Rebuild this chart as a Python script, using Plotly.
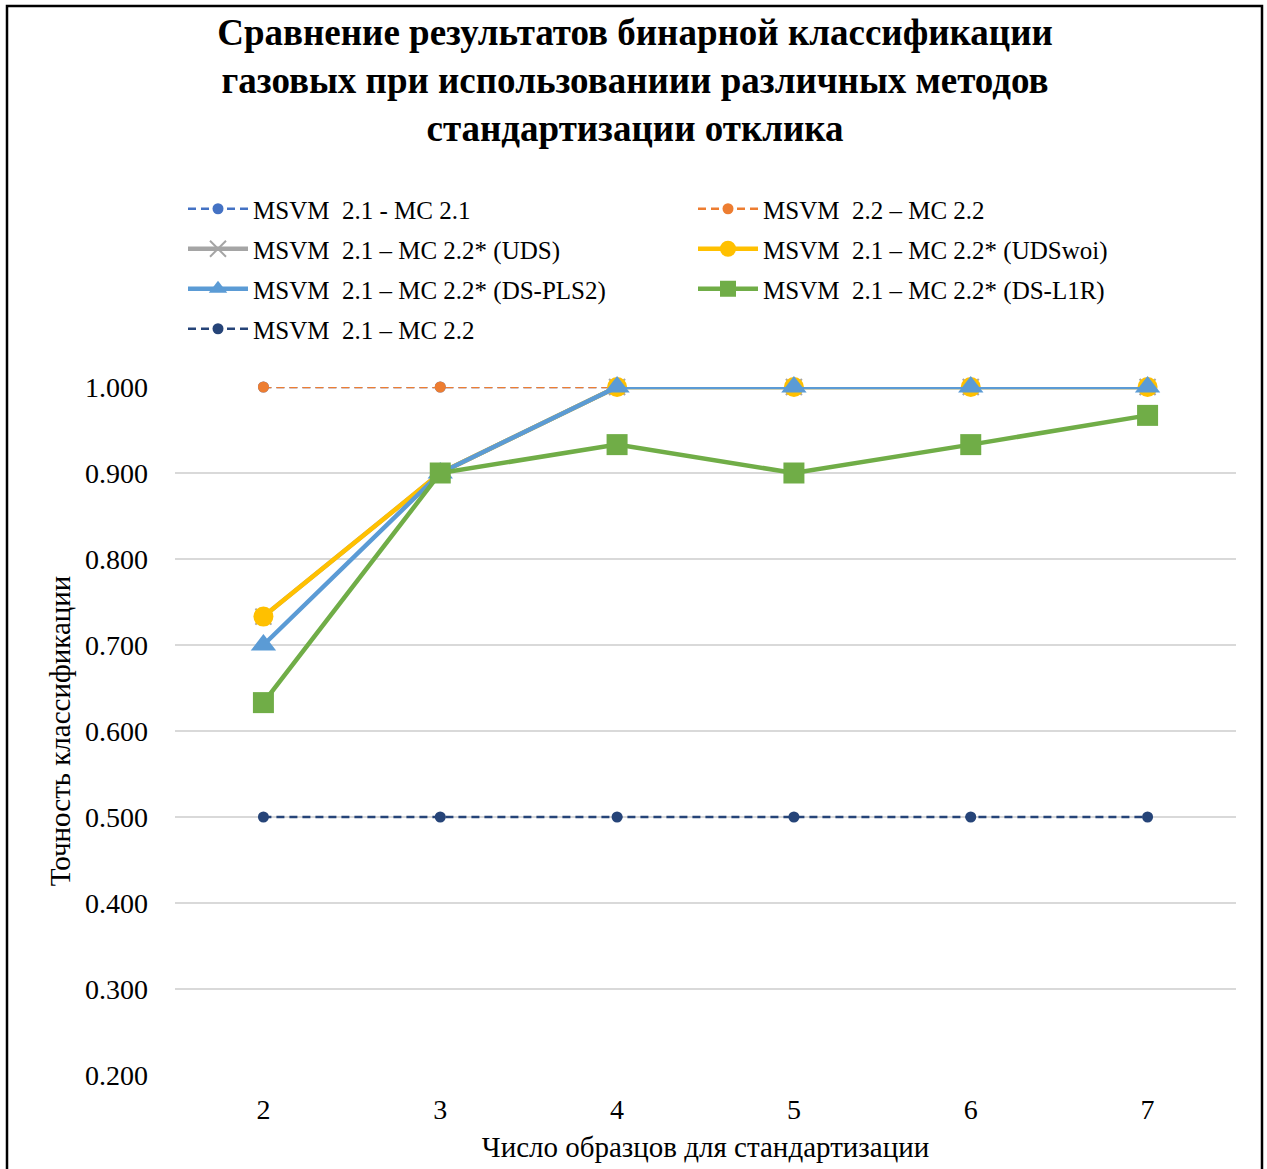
import plotly.graph_objects as go

x_vals = [2, 3, 4, 5, 6, 7]
y_mc21 = [1.0, 1.0, 1.0, 1.0, 1.0, 1.0]
y_mc22 = [1.0, 1.0, 1.0, 1.0, 1.0, 1.0]
y_uds = [0.733, 0.9, 1.0, 1.0, 1.0, 1.0]
y_udswoi = [0.733, 0.9, 1.0, 1.0, 1.0, 1.0]
y_dspls2 = [0.7, 0.9, 1.0, 1.0, 1.0, 1.0]
y_dsl1r = [0.633, 0.9, 0.933, 0.9, 0.933, 0.967]
y_cross = [0.5, 0.5, 0.5, 0.5, 0.5, 0.5]

names = ["MSVM  2.1 - MC 2.1", "MSVM  2.2 – MC 2.2", "MSVM  2.1 – MC 2.2* (UDS)",
         "MSVM  2.1 – MC 2.2* (UDSwoi)", "MSVM  2.1 – MC 2.2* (DS-PLS2)",
         "MSVM  2.1 – MC 2.2* (DS-L1R)", "MSVM  2.1 – MC 2.2"]

FONT = "Liberation Serif, Times New Roman, serif"
L, R, T, B = 175, 31, 387, 94
W, H = 1267, 1169
pw, ph = W - L - R, H - T - B

def px_x(x):
    return (x - L) / pw

def px_y(y):
    return (H - B - y) / ph

fig = go.Figure()

def add(y, name, color, dash, width, symbol, size, legend, group):
    fig.add_trace(go.Scatter(
        x=x_vals, y=y, name=name, mode="lines+markers",
        line=dict(color=color, width=width, dash=dash),
        marker=dict(symbol=symbol, size=size, color=color,
                    line=dict(width=0 if symbol != "x-thin" else 2, color=color)),
        cliponaxis=False, legend=legend, legendgroup=group))

DASH = "8px,5px"
add(y_mc21, names[0], "#4472C4", DASH, 2.6, "circle", 11, "legend", "g1")
add(y_mc22, names[1], "#ED7D31", DASH, 2.6, "circle", 11, "legend2", "g2")
add(y_uds, names[2], "#A5A5A5", "solid", 4.5, "x-thin", 16, "legend", "g3")
add(y_udswoi, names[3], "#FFC000", "solid", 4.5, "circle", 20, "legend2", "g4")
add(y_dspls2, names[4], "#5B9BD5", "solid", 4.5, "triangle-up", 22, "legend", "g5")
add(y_dsl1r, names[5], "#70AD47", "solid", 4.5, "square", 21, "legend2", "g6")
add(y_cross, names[6], "#264478", DASH, 2.6, "circle", 11, "legend", "g7")

legend_common = dict(font=dict(family=FONT, size=25, color="#000000"),
                     bgcolor="rgba(0,0,0,0)", itemwidth=60, tracegroupgap=4.5,
                     traceorder="grouped", yanchor="top", xanchor="left",
                     itemclick=False, itemdoubleclick=False)

fig.update_layout(
    width=W, height=H,
    margin=dict(l=L, r=R, t=T, b=B),
    paper_bgcolor="white", plot_bgcolor="white",
    font=dict(family=FONT, color="#000000"),
    title=dict(
        text="<b>Сравнение результатов бинарной классификации<br>"
             "газовых при использованиии различных методов<br>"
             "стандартизации отклика</b>",
        font=dict(family=FONT, size=37, color="#000000"),
        x=(635) / W, xanchor="center", xref="container",
        y=1 - 45 / H, yanchor="top", yref="container"),
    xaxis=dict(range=[1.5, 7.5], tickvals=x_vals, ticktext=[str(v) for v in x_vals],
               showgrid=False, zeroline=False, showline=False,
               tickfont=dict(family=FONT, size=28), ticklabelstandoff=15,
               title=dict(text="Число образцов для стандартизации",
                          font=dict(family=FONT, size=29), standoff=12)),
    yaxis=dict(range=[0.2, 1.0], dtick=0.1, tick0=0.2, tickformat=".3f",
               showgrid=True, gridcolor="#D9D9D9", gridwidth=1.5,
               zeroline=False, showline=False,
               tickfont=dict(family=FONT, size=28), ticklabelstandoff=26,
               title=dict(text="Точность классификации",
                          font=dict(family=FONT, size=29), standoff=5)),
    legend=dict(x=px_x(183), y=px_y(186), **legend_common),
    legend2=dict(x=px_x(693), y=px_y(186), **legend_common),
    showlegend=True,
)

fig.add_shape(type="rect", xref="paper", yref="paper",
              x0=px_x(7), x1=px_x(1262), y0=px_y(1180), y1=px_y(6),
              line=dict(color="#000000", width=2.5), fillcolor="rgba(0,0,0,0)",
              layer="below")

fig.write_html("out.html")
